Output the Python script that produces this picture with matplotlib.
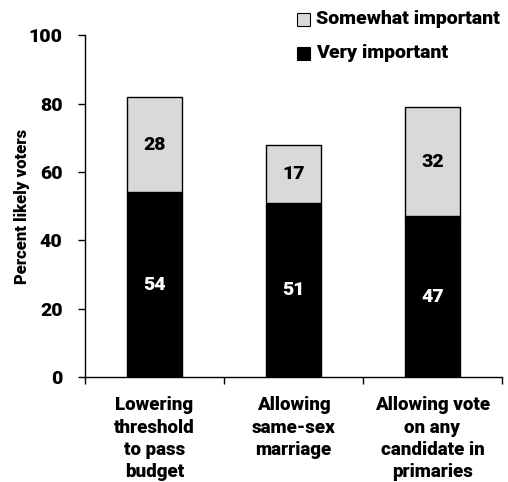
import matplotlib
matplotlib.use("Agg")
import matplotlib.pyplot as plt
from matplotlib.patches import Rectangle

plt.rcParams['font.family'] = ['Roboto', 'DejaVu Sans']
W = 'black'

categories = ["Lowering\nthreshold\nto pass\nbudget",
              "Allowing\nsame-sex\nmarriage",
              "Allowing vote\non any\ncandidate in\nprimaries"]
very_important = [54, 51, 47]
somewhat_important = [28, 17, 32]
yticks = [0, 20, 40, 60, 80, 100]

fig = plt.figure(figsize=(5.08, 4.82), dpi=100)
ax = fig.add_axes([0.167, 0.218, 0.821, 0.709])

x = list(range(len(categories)))
width = 0.4
ax.bar(x, very_important, width, color='black', edgecolor='black', linewidth=1)
ax.bar(x, somewhat_important, width, bottom=very_important,
       color='#d9d9d9', edgecolor='black', linewidth=1)

for xi, v, s in zip(x, very_important, somewhat_important):
    ax.text(xi, v / 2, str(v), ha='center', va='center', color='white',
            fontsize=14, fontweight=W)
    ax.text(xi, v + s / 2, str(s), ha='center', va='center', color='black',
            fontsize=14, fontweight=W)

ax.set_xlim(-0.5, 2.5)
ax.set_ylim(0, 100)
ax.set_yticks(yticks)
ax.set_yticklabels([str(t) for t in yticks], fontsize=14, fontweight=W)
ax.tick_params(axis='y', direction='out', length=5, width=1, pad=11)
ax.set_xticks([-0.5, 0.5, 1.5, 2.5])
ax.set_xticklabels([])
ax.set_xticks(x, minor=True)
ax.set_xticklabels(categories, minor=True, fontsize=13.5, fontweight=W, linespacing=1.3)
ax.tick_params(axis='x', which='major', direction='out', length=5, width=1)
ax.tick_params(axis='x', which='minor', length=0, pad=14)
ax.set_ylabel("Percent likely voters", fontsize=12, fontweight=W)
ax.yaxis.set_label_coords(-0.132, 0.5)
for side in ['top', 'right']:
    ax.spines[side].set_visible(False)
for side in ['left', 'bottom']:
    ax.spines[side].set_linewidth(1)

# legend drawn as squares with labels in figure coordinates
legend_items = [("Somewhat important", '#d9d9d9', 0.9595),
                ("Very important", 'black', 0.889)]
for label, color, yy in legend_items:
    fig.patches.append(Rectangle((0.585, yy - 0.0135), 0.0256, 0.027, transform=fig.transFigure,
                                 facecolor=color, edgecolor='black', linewidth=0.8))
    fig.text(0.622, yy + 0.002, label, ha='left', va='center', fontsize=14, fontweight=W)

fig.savefig("out.png", dpi=100)
